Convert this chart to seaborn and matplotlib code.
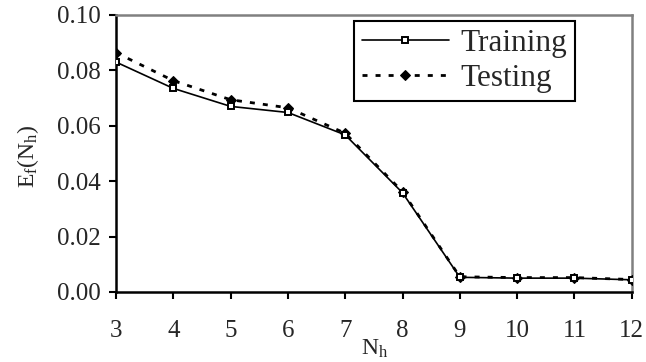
import matplotlib
matplotlib.use("Agg")
import matplotlib.pyplot as plt
import seaborn as sns
import pandas as pd

nh = [3, 4, 5, 6, 7, 8, 9, 10, 11, 12]
training = [0.083, 0.0735, 0.067, 0.0648, 0.0567, 0.0358, 0.0053, 0.0050, 0.0050, 0.0044]
testing = [0.0864, 0.0763, 0.0694, 0.0665, 0.0573, 0.0362, 0.0055, 0.0052, 0.0052, 0.0045]
yticks = [0.00, 0.02, 0.04, 0.06, 0.08, 0.10]

sns.set_style("white")
plt.rcParams['font.family'] = ['Liberation Serif', 'DejaVu Serif']
plt.rcParams['mathtext.fontset'] = 'custom'
plt.rcParams['mathtext.rm'] = 'Liberation Serif'
plt.rcParams['mathtext.it'] = 'Liberation Serif'

fig = plt.figure(figsize=(6.46, 3.62), dpi=100)
ax = fig.add_axes([0.1796, 0.1934, 0.978 - 0.1796, 0.9586 - 0.1934])

df_tr = pd.DataFrame({"Nh": nh, "E": training})
df_te = pd.DataFrame({"Nh": nh, "E": testing})

sns.lineplot(data=df_te, x="Nh", y="E", ax=ax, color="black", linewidth=2.0,
             linestyle=(0, (1.8, 2.9)), marker="D", markersize=5,
             markerfacecolor="black", markeredgecolor="black", label="Testing", zorder=3)
sns.lineplot(data=df_tr, x="Nh", y="E", ax=ax, color="black", linewidth=1.2,
             marker="s", markersize=4.5, markerfacecolor="white",
             markeredgecolor="black", markeredgewidth=1.4, label="Training", zorder=4)

ax.set_xlim(3, 12)
ax.set_ylim(0, 0.10)
ax.set_xticks(nh)
ax.set_yticks(yticks)
ax.set_yticklabels([f"{v:.2f}" for v in yticks])
ax.tick_params(axis='both', direction='out', length=5, width=1.5, labelsize=18,
               bottom=True, left=True, color='black')
ax.tick_params(axis='x', pad=15)
ax.tick_params(axis='y', pad=6)
for s in ['left', 'bottom']:
    ax.spines[s].set_color('black')
    ax.spines[s].set_linewidth(1.8)
for s in ['top', 'right']:
    ax.spines[s].set_color('#808080')
    ax.spines[s].set_linewidth(1.8)

ax.set_xlabel(r"N$_\mathrm{h}$", fontsize=17)
ax.set_ylabel(r"E$_\mathrm{f}$(N$_\mathrm{h}$)", fontsize=17)
ax.xaxis.set_label_coords(0.502, -0.166)
ax.yaxis.set_label_coords(-0.145, 0.49)

handles, labels = ax.get_legend_handles_labels()
order = [labels.index("Training"), labels.index("Testing")]
leg = ax.legend([handles[i] for i in order], [labels[i] for i in order],
                loc='upper left', bbox_to_anchor=(0.461, 0.978), fontsize=22.5,
                frameon=True, fancybox=False, framealpha=1, edgecolor='black',
                handlelength=2.8, handletextpad=0.35, borderpad=0.25,
                labelspacing=0.2, borderaxespad=0)
leg.get_frame().set_linewidth(1.5)

fig.savefig("out.png", dpi=100)
